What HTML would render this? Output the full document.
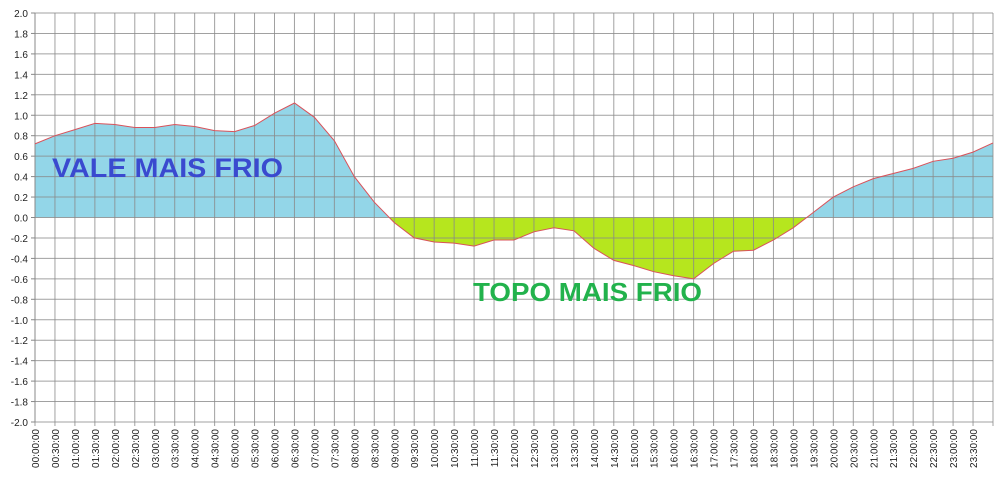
<!DOCTYPE html>
<html><head><meta charset="utf-8"><style>
html,body{margin:0;padding:0;background:#fff;}
svg{display:block;font-family:"Liberation Sans",sans-serif;}
</style></head><body>
<svg width="1000" height="478" viewBox="0 0 1000 478" xmlns="http://www.w3.org/2000/svg">
<defs>
<clipPath id="above"><rect x="0" y="0" width="1000" height="217.5"/></clipPath>
<clipPath id="below"><rect x="0" y="217.5" width="1000" height="260"/></clipPath>
</defs>
<g id="chart"></g>
<text x="52" y="177" font-size="27" font-weight="bold" fill="#3A4ACF" textLength="231" lengthAdjust="spacingAndGlyphs">VALE MAIS FRIO</text>
<text x="473" y="301" font-size="26" font-weight="bold" fill="#22B24C" textLength="229" lengthAdjust="spacingAndGlyphs">TOPO MAIS FRIO</text>
</svg>
<script>
var v=[0.72,0.80,0.86,0.92,0.91,0.88,0.88,0.91,0.89,0.85,0.84,0.90,1.02,1.12,0.98,0.75,0.40,0.15,-0.05,-0.20,-0.24,-0.25,-0.28,-0.22,-0.22,-0.14,-0.10,-0.13,-0.30,-0.42,-0.47,-0.53,-0.57,-0.60,-0.45,-0.33,-0.32,-0.22,-0.10,0.05,0.20,0.30,0.38,0.43,0.48,0.55,0.58,0.64,0.73];
var X0=35,DX=(993-35)/48,Y0=217.5,SY=102.25;
function X(i){return X0+i*DX;} function Y(a){return Y0-a*SY;}
var pts=v.map(function(a,i){return X(i).toFixed(1)+","+Y(a).toFixed(1)}).join(" ");
var area="M"+X(0)+","+Y0+" L"+pts.split(" ").join(" L")+" L"+X(48)+","+Y0+" Z";
var s="";
s+='<path d="'+area+'" fill="#93D6E8" clip-path="url(#above)"/>';
s+='<path d="'+area+'" fill="#B6E61E" clip-path="url(#below)"/>';
for(var k=0;k<=20;k++){var y=13+k*20.45;s+='<line x1="'+X0+'" x2="993" y1="'+y+'" y2="'+y+'" stroke="#8a8a8a" stroke-opacity="0.8" stroke-width="1"/>';
var lab=(2-k*0.2);lab=(Math.abs(lab)<1e-9?0:lab).toFixed(1);
s+='<text x="28" y="'+(y+4)+'" font-size="10" text-anchor="end" fill="#222">'+lab+'</text>';
s+='<line x1="31" x2="35" y1="'+y+'" y2="'+y+'" stroke="#888"/>';}
for(var i=0;i<=48;i++){var x=X(i);s+='<line x1="'+x+'" x2="'+x+'" y1="13" y2="426" stroke="#8a8a8a" stroke-opacity="0.8" stroke-width="1"/>';
if(i<48){var h=Math.floor(i/2),m=i%2?"30":"00";var t=(h<10?"0":"")+h+":"+m+":00";
s+='<text transform="translate('+(x+4)+',429) rotate(-90)" font-size="10" text-anchor="end" fill="#222">'+t+'</text>';}}
s+='<line x1="35" x2="35" y1="13" y2="422" stroke="#888"/>';
s+='<polyline points="'+pts+'" fill="none" stroke="#D9525A" stroke-width="1"/>';
document.getElementById("chart").innerHTML=s;
</script>
</body></html>
